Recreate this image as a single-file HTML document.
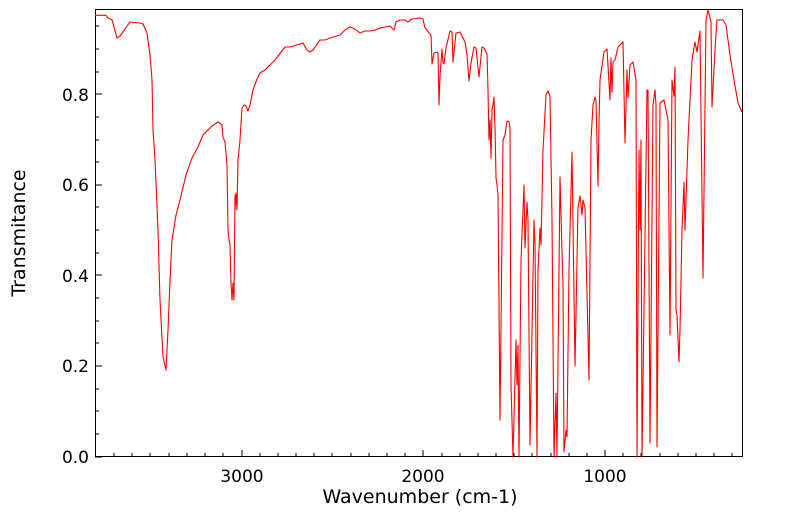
<!DOCTYPE html>
<html><head><meta charset="utf-8"><style>
html,body{margin:0;padding:0;background:#fff;}
svg{display:block;font-family:"DejaVu Sans","Liberation Sans",sans-serif;}
</style></head><body>
<svg width="799" height="516" viewBox="0 0 799 516" xmlns="http://www.w3.org/2000/svg">
<rect width="799" height="516" fill="#fff"/>
<g stroke="#000" stroke-width="1" fill="none">
<rect x="95.5" y="9.5" width="647" height="447"/>
<path d="
M114,457v-4 M132,457v-4 M150,457v-4 M169,457v-4 M187,457v-4 M205,457v-4 M223,457v-4 M242,457v-7 M260,457v-4 M278,457v-4 M296,457v-4 M314,457v-4 M332,457v-4 M351,457v-4 M369,457v-4 M387,457v-4 M405,457v-4 M423,457v-7 M442,457v-4 M460,457v-4 M478,457v-4 M496,457v-4 M514,457v-4 M532,457v-4 M551,457v-4 M569,457v-4 M587,457v-4 M605,457v-7 M623,457v-4 M641,457v-4 M660,457v-4 M678,457v-4 M696,457v-4 M714,457v-4 M732,457v-4"/>
<path d="
M95,457h7 M95,434h4 M95,411h4 M95,389h4 M95,366h7 M95,343h4 M95,321h4 M95,298h4 M95,275h7 M95,253h4 M95,230h4 M95,207h4 M95,185h7 M95,162h4 M95,140h4 M95,117h4 M95,94h7 M95,72h4 M95,49h4 M95,26h4"/>
</g>
<g font-size="17" fill="#000">
<text x="89" y="463" text-anchor="end">0.0</text>
<text x="89" y="372" text-anchor="end">0.2</text>
<text x="89" y="282" text-anchor="end">0.4</text>
<text x="89" y="191" text-anchor="end">0.6</text>
<text x="89" y="101" text-anchor="end">0.8</text>
<text x="242" y="482" text-anchor="middle">3000</text>
<text x="423" y="482" text-anchor="middle">2000</text>
<text x="605" y="482" text-anchor="middle">1000</text>
<text x="420" y="503" text-anchor="middle" font-size="19">Wavenumber (cm-1)</text>
<text transform="translate(25,233) rotate(-90)" text-anchor="middle" font-size="19">Transmitance</text>
</g>
<polyline fill="none" stroke="#ff0000" stroke-width="1.1" stroke-linejoin="round" points="
95,15.3 106,15.3 108,18 112,19.7 117,38 120,36 130,22 140,23 143,24 147,33 150,55 152,80 153,130 155,160 158,230 160,300 163,357 166,370 168,330 170,280 172,240 176,215 180,200 186,175 192,158 198,147 203,135 206,132 212,126 218,122 222,125 223,137 225,142 227,165 228,230 229,240 230,245 231,283 232,300 233,283 234,300 235,195 235,210 236,193 237,210 238,160 240,140 242,108 244,105 246,106 248,111 250,105 253,90 257,79 260,73 265,70 267,68 275,60 285,47 290,47 300,44 303,43 307,50 310,52 313,50 320,40 325,40 330,38 340,35 345,30 350,27 355,29 360,33 365,31 370,31 375,30 380,28 385,27 390,26 394,30 396,22 400,20 405,20 408,22 412,19 420,18 423,19 425,28 427,30 429,33 431,35 432,64 434,53 437,52 438,53 439,105 440,75 442,49 443,63 444,64 446,48 450,31 452,32 453,62 456,33 460,32 462,36 465,42 467,55 469,81 471,63 474,47 476,48 479,77 482,47 484,48 487,54 488,90 489,140 490,120 491,158 492,110 493,105 494,97 495,128 496,178 497,185 498,195 500,420 503,140 505,135 507,121 509,122 510,128 511,385 513,457 516,340 517,385 518,345 519,457 521,260 524,185 525,248 527,202 528,220 530,445 534,220 535,243 537,457 538,270 540,228 541,245 543,150 546,95 548,91 550,96 552,220 554,457 556,393 557,457 560,177 562,252 563,285 564,452 566,430 567,437 569,270 572,152 575,366 578,208 580,196 582,215 583,200 585,208 589,380 591,140 593,105 595,97 596,100 598,186 599,123 600,80 604,52 607,49 610,100 611,58 612,92 613,62 615,60 618,47 623,42 625,143 627,70 628,98 630,65 633,62 636,80 637,457 639,150 640,230 641,140 642,457 647,90 648,90 650,443 653,105 655,90 656,105 657,447 660,103 664,100 668,120 670,335 672,80 674,96 675,67 676,310 677,315 679,362 680,330 682,230 684,182 685,230 688,140 692,60 695,42 697,52 700,31 703,278 706,20 708,10 711,22 712,107 715,50 717,20 723,20 726,25 730,55 734,80 738,103 742,112"/>
</svg>
</body></html>
